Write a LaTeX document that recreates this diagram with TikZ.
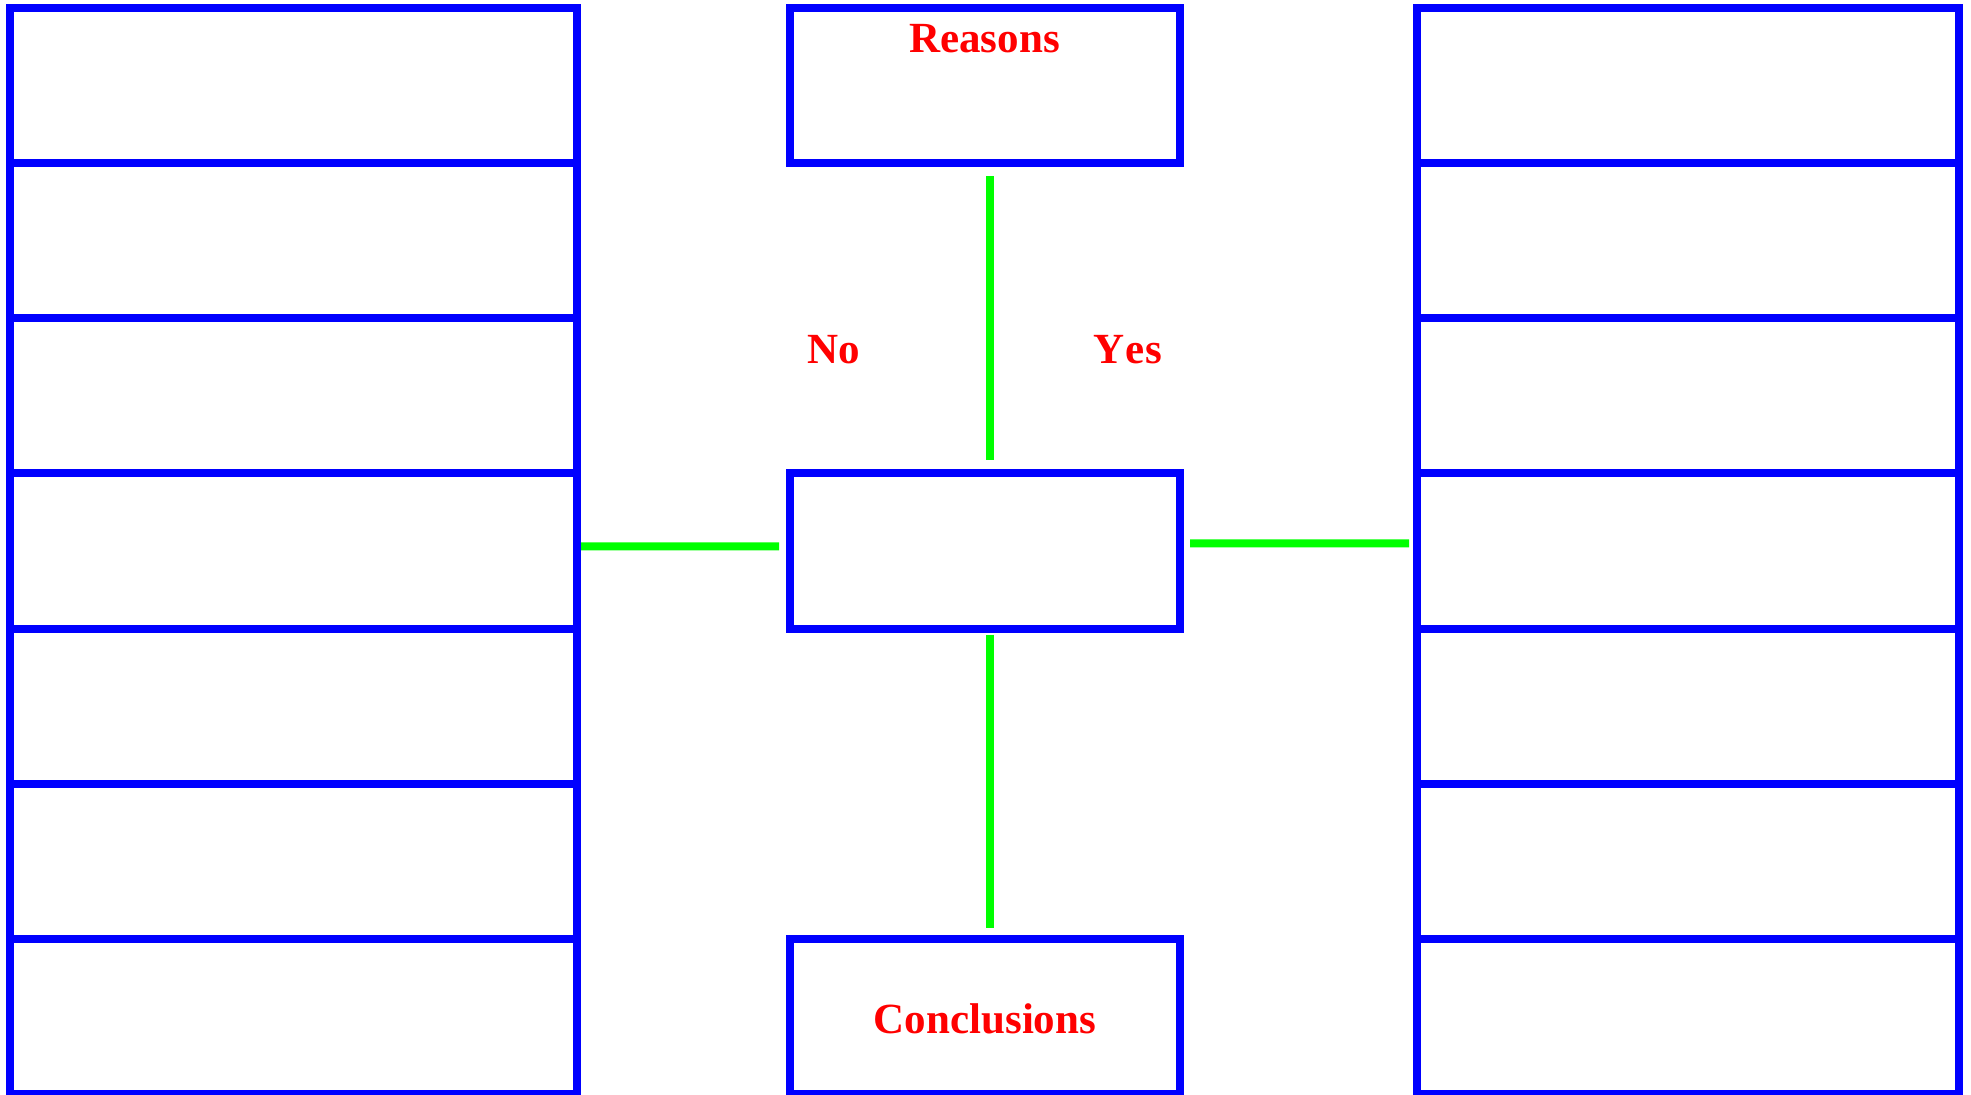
\documentclass[tikz,border=0pt]{standalone}
\usepackage{fontspec}
\setmainfont{Liberation Serif}
\definecolor{frameblue}{RGB}{0,0,255}
\definecolor{linkgreen}{RGB}{0,255,0}
\definecolor{labelred}{RGB}{255,0,0}
\begin{document}
\begin{tikzpicture}[x=1pt,y=-1pt,
  cell/.style={draw=frameblue,line width=8pt,rectangle,inner sep=0pt,
    minimum height=155.14pt},
  sidecell/.style={cell,minimum width=567pt},
  rightcell/.style={cell,minimum width=542pt},
  midbox/.style={cell,minimum width=390pt},
  link/.style={draw=linkgreen,line width=8pt},
  tag/.style={text=labelred,font=\fontsize{43pt}{52pt}\selectfont\bfseries,
    inner sep=0pt,anchor=base}]
\useasboundingbox (0,0) rectangle (1971,1095);

% left and right columns of seven stacked cells
\foreach \i in {1,...,7}{
  \pgfmathsetmacro{\cy}{8+155.14*(\i-0.5)}
  \node[sidecell] (L\i) at (293.5,\cy) {};
  \node[rightcell] (R\i) at (1688,\cy) {};
}

% centre column
\node[midbox] (reasons) at (985,85.57) {};
\node[midbox] (mid) at (985,550.99) {};
\node[midbox] (concl) at (985,1016.41) {};

% labels
\node[tag] (reasonsText) at (984.5,52) {Reasons};
\node[tag] (conclText) at (985,1033) {Conclusions};
\node[tag] (noText) at (834,363) {No};
\node[tag] (yesText) at (1128,363) {Y\kern1pt e\kern1pt s};

% green links
\draw[link,shorten <=9pt,shorten >=9pt]
  ([xshift=5pt]reasons.south) -- ([xshift=5pt]mid.north);
\draw[link,shorten <=2pt,shorten >=7pt]
  ([xshift=5pt]mid.south) -- ([xshift=5pt]concl.north);
\draw[link,shorten >=7pt]
  ([yshift=4.5pt]L4.east) -- ([yshift=4.5pt]mid.west);
\draw[link,shorten <=6pt,shorten >=4pt]
  ([yshift=7.5pt]mid.east) -- ([yshift=7.5pt]R4.west);
\end{tikzpicture}
\end{document}
